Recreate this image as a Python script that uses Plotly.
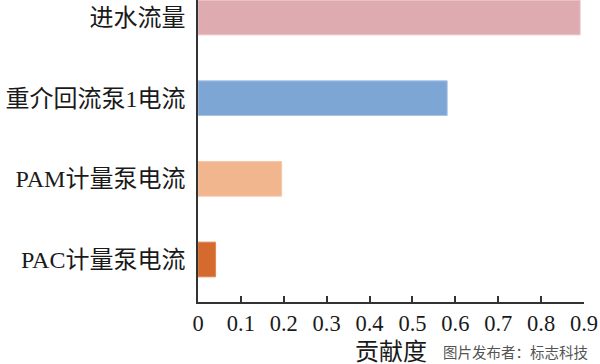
import plotly.graph_objects as go

categories = ["PAC计量泵电流", "PAM计量泵电流", "重介回流泵1电流", "进水流量"]
values = [0.041, 0.195, 0.581, 0.891]
colors = ["#D56A2E", "#F2B68F", "#7EA6D5", "#DEABB0"]
outline = ["#E0885A", "#F6C8A8", "#A8C3E6", "#EBC3C6"]
x_ticks = [0, 0.1, 0.2, 0.3, 0.4, 0.5, 0.6, 0.7, 0.8, 0.9]
x_tick_labels = ["0", "0.1", "0.2", "0.3", "0.4", "0.5", "0.6", "0.7", "0.8", "0.9"]

serif = "Liberation Serif, Times New Roman, Noto Sans CJK SC, serif"

fig = go.Figure(go.Bar(
    x=values, y=categories, orientation="h", width=0.43,
    marker=dict(color=colors, line=dict(color=outline, width=1)),
))

fig.update_layout(
    width=600, height=364,
    margin=dict(l=198, r=16, t=0, b=62),
    plot_bgcolor="white", paper_bgcolor="white",
    showlegend=False,
    font=dict(family=serif, color="#1a1a1a"),
)
fig.update_xaxes(
    range=[0, 0.9], tickvals=x_ticks, ticktext=x_tick_labels,
    showgrid=False, zeroline=False, automargin=False,
    showline=True, linecolor="#333333", linewidth=1.5,
    ticks="inside", ticklen=6, tickcolor="#333333", tickwidth=1.5,
    tickfont=dict(size=22.5, family=serif),
)
fig.update_yaxes(
    type="category", range=[-0.527, 3.217],
    showgrid=False, zeroline=False, automargin=False,
    showline=True, linecolor="#333333", linewidth=1.5,
    ticks="", tickfont=dict(size=24, family=serif),
    ticklabelstandoff=6,
)
fig.add_annotation(text="贡献度", xref="paper", yref="paper", x=0.5, y=-0.165,
                   xanchor="center", yanchor="middle", showarrow=False,
                   font=dict(size=24, family=serif, color="#1a1a1a"))
fig.add_annotation(text="图片发布者：标志科技", xref="paper", yref="paper", x=1.015, y=-0.165,
                   xanchor="right", yanchor="middle", showarrow=False,
                   font=dict(size=14.5, family="Noto Sans CJK SC", color="#555555"))

fig.write_html("out.html", config={"displayModeBar": False},
               post_script="document.body.style.margin='0';document.body.style.overflow='hidden';")
